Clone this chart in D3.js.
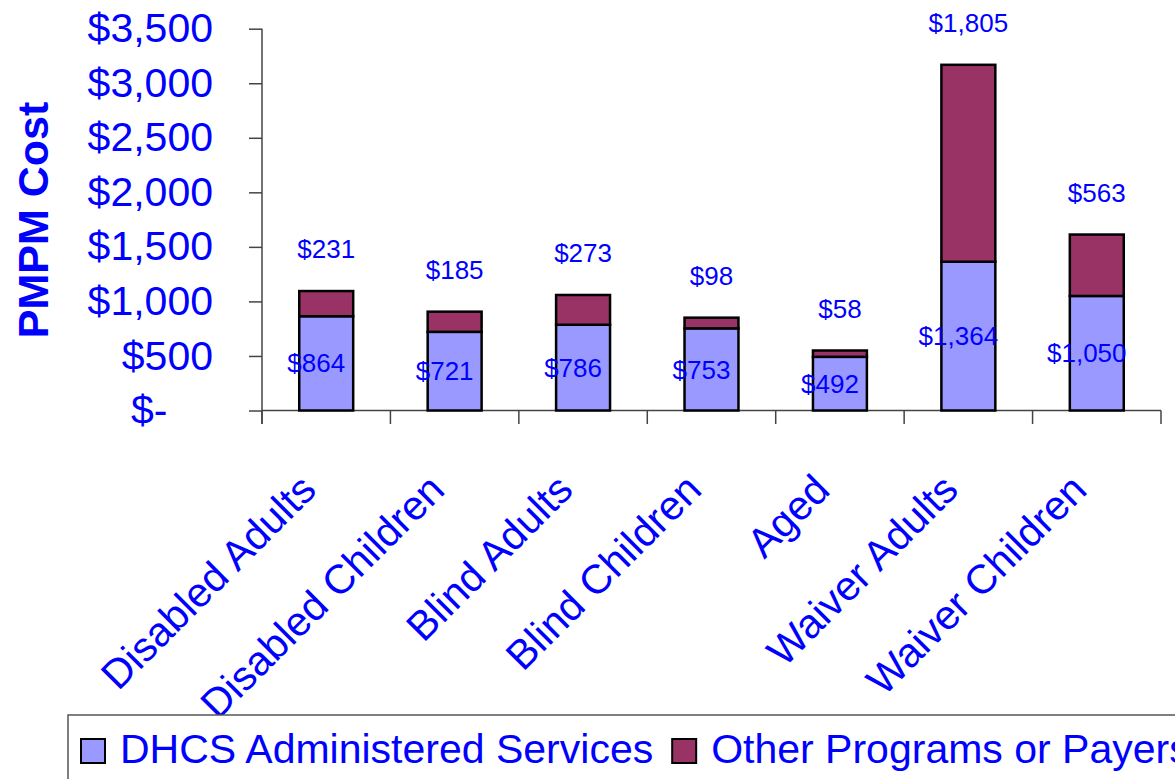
<!DOCTYPE html>
<html>
<head>
<meta charset="utf-8">
<script src="https://cdn.jsdelivr.net/npm/d3@7"></script>
<style>
  body { margin: 0; background: #fff; }
  svg { font-family: "Liberation Sans", Arial, sans-serif; display: block; }
  .y-axis text { white-space: pre; }
</style>
</head>
<body>
<svg width="1175" height="779"></svg>
<script>
// data
const categories = ["Disabled Adults", "Disabled Children", "Blind Adults", "Blind Children", "Aged", "Waiver Adults", "Waiver Children"];
const dhcsValues = [864, 721, 786, 753, 492, 1364, 1050];
const otherValues = [231, 185, 273, 98, 58, 1805, 563];
const seriesNames = ["DHCS Administered Services", "Other Programs or Payers"];
const yTicks = [0, 500, 1000, 1500, 2000, 2500, 3000, 3500];

const colors = ["#9999FF", "#993366"];
const textBlue = "#0000FF";
const axisColor = "#444";

const svg = d3.select("svg");

// plot area
const plotLeft = 262, plotRight = 1161, plotTop = 28.7, plotBottom = 410.5;

const x = d3.scaleBand()
  .domain(categories)
  .range([plotLeft, plotRight])
  .paddingInner(0.58)
  .paddingOuter(0.29);

const y = d3.scaleLinear()
  .domain([0, 3500])
  .range([plotBottom, plotTop]);

const rows = categories.map((c, i) => ({ cat: c, dhcs: dhcsValues[i], other: otherValues[i] }));
const stacked = d3.stack().keys(["dhcs", "other"])(rows);

// y axis
const fmt = d => d === 0 ? "$-    " : "$" + d3.format(",")(d);
const yAxis = svg.append("g")
  .attr("class", "y-axis")
  .attr("transform", `translate(${plotLeft},0)`)
  .call(d3.axisLeft(y).tickValues(yTicks).tickFormat(fmt).tickSize(13).tickPadding(36).tickSizeOuter(0));
yAxis.select(".domain").remove();
yAxis.selectAll("line").attr("stroke", axisColor).attr("stroke-width", 1.5);
yAxis.selectAll("text")
  .attr("fill", textBlue)
  .style("font-size", "41px")
  .style("font-family", "'Liberation Sans', Arial, sans-serif");

// vertical axis line, extends below zero to the category ticks
svg.append("line")
  .attr("x1", plotLeft).attr("x2", plotLeft)
  .attr("y1", plotTop).attr("y2", plotBottom + 13.5)
  .attr("stroke", axisColor).attr("stroke-width", 1.5);

// horizontal base line
svg.append("line")
  .attr("x1", plotLeft).attr("x2", plotRight)
  .attr("y1", plotBottom).attr("y2", plotBottom)
  .attr("stroke", axisColor).attr("stroke-width", 1.5);

// category boundary ticks
const step = x.step();
svg.append("g")
  .selectAll("line")
  .data(d3.range(categories.length + 1))
  .join("line")
  .attr("x1", i => plotLeft + i * step)
  .attr("x2", i => plotLeft + i * step)
  .attr("y1", plotBottom)
  .attr("y2", plotBottom + 13.5)
  .attr("stroke", axisColor)
  .attr("stroke-width", 1.5);

// stacked bars
svg.append("g")
  .selectAll("g")
  .data(stacked)
  .join("g")
  .attr("fill", (d, i) => colors[i])
  .selectAll("rect")
  .data(d => d)
  .join("rect")
  .attr("x", d => x(d.data.cat))
  .attr("y", d => y(d[1]))
  .attr("width", x.bandwidth())
  .attr("height", d => y(d[0]) - y(d[1]))
  .attr("stroke", "#000")
  .attr("stroke-width", 2.5);

// value labels
const labels = svg.append("g")
  .attr("fill", textBlue)
  .style("font-size", "26px")
  .attr("text-anchor", "middle");

labels.selectAll(".lbl-low")
  .data(stacked[0])
  .join("text")
  .attr("class", "lbl-low")
  .attr("x", d => x(d.data.cat) + x.bandwidth() / 2 - 10)
  .attr("y", d => y((d[0] + d[1]) / 2))
  .attr("dy", "0.35em")
  .text(d => "$" + d3.format(",")(d.data.dhcs));

labels.selectAll(".lbl-high")
  .data(stacked[1])
  .join("text")
  .attr("class", "lbl-high")
  .attr("x", d => x(d.data.cat) + x.bandwidth() / 2)
  .attr("y", d => y(d[1]) - 42)
  .attr("dy", "0.35em")
  .text(d => "$" + d3.format(",")(d.data.other));

// rotated category labels
svg.append("g")
  .selectAll("text")
  .data(categories)
  .join("text")
  .attr("transform", d => `translate(${x(d) + x.bandwidth() / 2 - 8},492) rotate(-45)`)
  .attr("text-anchor", "end")
  .attr("fill", textBlue)
  .style("font-size", "41px")
  .text(d => d);

// y axis title
svg.append("text")
  .attr("transform", "translate(48,220) rotate(-90)")
  .attr("text-anchor", "middle")
  .attr("fill", textBlue)
  .style("font-size", "43px")
  .style("font-weight", "bold")
  .text("PMPM Cost");

// legend
const legend = svg.append("g");
legend.append("rect")
  .attr("x", 68).attr("y", 715)
  .attr("width", 1200).attr("height", 100)
  .attr("fill", "#fff")
  .attr("stroke", "#555")
  .attr("stroke-width", 1.5);

let lx = 81;
seriesNames.forEach((name, i) => {
  legend.append("rect")
    .attr("x", lx).attr("y", 739)
    .attr("width", 24).attr("height", 24)
    .attr("fill", colors[i])
    .attr("stroke", "#000")
    .attr("stroke-width", 2);
  const t = legend.append("text")
    .attr("x", lx + 39).attr("y", 763)
    .attr("fill", textBlue)
    .style("font-size", "41px")
    .text(name);
  lx = lx + 39 + t.node().getComputedTextLength() + 19;
});
</script>
</body>
</html>
